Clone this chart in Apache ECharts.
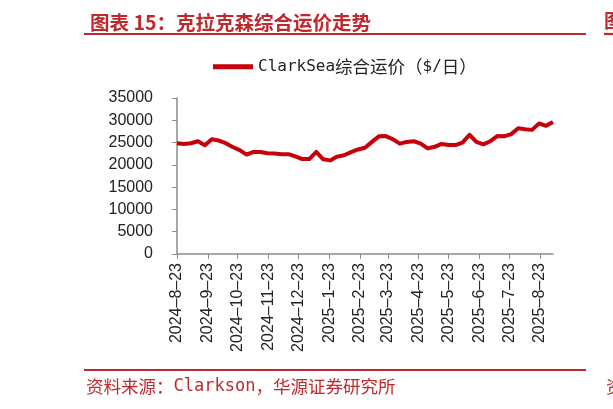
<!DOCTYPE html>
<html>
<head>
<meta charset="utf-8">
<script src="https://cdn.jsdelivr.net/npm/echarts@6/dist/echarts.min.js"></script>
<style>
html,body{margin:0;padding:0;background:#fff;}
#c{width:613px;height:409px;}
</style>
</head>
<body>
<div id="c"></div>
<script>
// ---- data ----
const titleText = '图表 15：克拉克森综合运价走势';
const seriesName = 'ClarkSea综合运价（$/日）';
const firstWeek = '2024-08-23';
const weeklyValues = [
  24850,24700,24850,25300,24400,25750,25450,24850,24000,23300,
  22300,22900,22900,22600,22550,22400,22400,21900,21300,21300,
  22900,21250,21000,21850,22150,22850,23450,23850,25150,26400,
  26450,25750,24750,25150,25300,24750,23700,24050,24700,24450,
  24450,25000,26750,25150,24600,25300,26450,26400,26900,28200,
  28000,27850,29300,28750,29600
];
const tickDates = [
  '2024-08-23','2024-09-23','2024-10-23','2024-11-23','2024-12-23',
  '2025-01-23','2025-02-23','2025-03-23','2025-04-23','2025-05-23',
  '2025-06-23','2025-07-23','2025-08-23'
];
const yTicks = [0,5000,10000,15000,20000,25000,30000,35000];

// ---- helpers ----
function toTs(s){ const p = s.split('-').map(Number); return new Date(p[0], p[1]-1, p[2]).getTime(); }
const startTs = toTs(firstWeek);
const seriesData = weeklyValues.map((v,i)=>{
  const d = new Date(startTs); d.setDate(d.getDate() + 7*i);
  return [d.getTime(), v];
});
const tickTs = tickDates.map(toTs);
function fmtDate(v){ const d = new Date(v); return d.getFullYear()+'–'+(d.getMonth()+1)+'–'+d.getDate(); }

const RED = '#c8000a';
const DEEP = '#c0282e';
const chart = echarts.init(document.getElementById('c'), null, {renderer:'canvas'});
chart.setOption({
  animation:false,
  backgroundColor:'#fff',
  title:{
    text:titleText, left:85, top:8,
    textStyle:{fontFamily:'"Noto Sans CJK SC"', fontSize:19.5, fontWeight:'bold', color:DEEP}
  },
  legend:{
    left:208, top:53,
    icon:'rect', itemWidth:40, itemHeight:5, itemGap:10,
    data:[seriesName],
    formatter:()=> '{a|ClarkSea}{b|综合运价（}{a|$/}{b|日）}',
    textStyle:{
      rich:{
        a:{fontFamily:'"DejaVu Sans Mono"', fontSize:16, color:'#222'},
        b:{fontFamily:'"Noto Sans CJK SC"', fontSize:17.5, color:'#222'}
      }
    }
  },
  grid:{left:177, right:60, top:98, bottom:155, containLabel:false},
  xAxis:{
    type:'value',
    min:seriesData[0][0],
    max:seriesData[seriesData.length-1][0],
    axisLine:{lineStyle:{color:'#8c8c8c', width:1.5}},
    axisTick:{show:true, length:5, customValues:tickTs, lineStyle:{color:'#8c8c8c'}},
    axisLabel:{
      customValues:tickTs, rotate:90, margin:9,
      fontFamily:'"Liberation Sans", Arial', fontSize:16, color:'#222',
      formatter:(v)=>fmtDate(v), showMinLabel:true, showMaxLabel:true, hideOverlap:false
    },
    splitLine:{show:false}
  },
  yAxis:{
    type:'value', min:yTicks[0], max:yTicks[yTicks.length-1], interval:yTicks[1]-yTicks[0],
    axisLine:{show:true, lineStyle:{color:'#8c8c8c', width:1.5}},
    axisTick:{show:true, length:5, lineStyle:{color:'#8c8c8c'}},
    axisLabel:{margin:24, fontFamily:'"Liberation Sans", Arial', fontSize:16, color:'#222',
      formatter:(v)=>String(v)},
    splitLine:{show:false}
  },
  series:[{
    name:seriesName, type:'line', data:seriesData,
    symbol:'none', smooth:false,
    lineStyle:{color:RED, width:4, join:'round'},
    itemStyle:{color:RED}
  }],
  graphic:[
    {type:'line', shape:{x1:84,y1:34,x2:586,y2:34}, style:{stroke:DEEP, lineWidth:2.2}},
    {type:'line', shape:{x1:604,y1:34,x2:613,y2:34}, style:{stroke:DEEP, lineWidth:2.2}},
    {type:'text', left:604, top:11, style:{text:'图', font:'bold 19px "Noto Sans CJK SC"', fill:DEEP}},
    {type:'line', shape:{x1:84,y1:370,x2:586,y2:370}, style:{stroke:DEEP, lineWidth:2}},
    {type:'text', left:86, top:378, style:{
      text:'{b|资料来源：}{a|Clarkson}{b|，华源证券研究所}',
      rich:{
        a:{fontFamily:'"DejaVu Sans Mono"', fontSize:17, fill:DEEP},
        b:{fontFamily:'"Noto Sans CJK SC"', fontSize:17.5, fill:DEEP}
      }
    }},
    {type:'text', left:606, top:378, style:{text:'资', font:'17.5px "Noto Sans CJK SC"', fill:DEEP}}
  ]
});
</script>
</body>
</html>
